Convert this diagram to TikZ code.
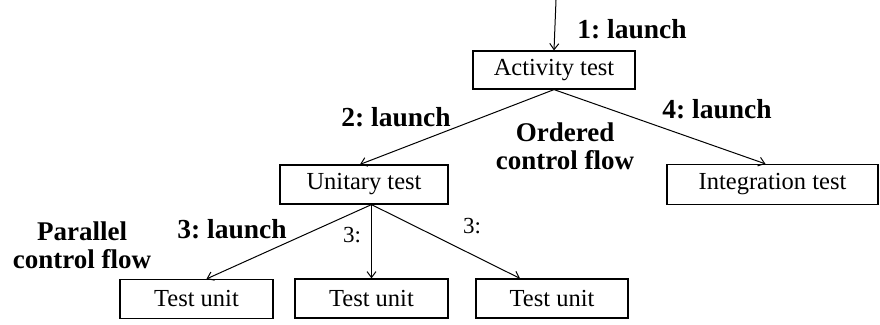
\documentclass[tikz,border=0pt]{standalone}
\usepackage{fontspec}
\setmainfont{Liberation Serif}
\usetikzlibrary{positioning, arrows.meta}
\frenchspacing

\begin{document}
\begin{tikzpicture}[
    x=1pt, y=-1pt,
    testbox/.style={rectangle, draw=black, line width=1.2pt, minimum height=39pt, inner sep=0pt, text centered, font=\fontsize{24.5}{28}\selectfont},
    launch/.style={font=\fontsize{27.5}{28}\selectfont\bfseries, inner sep=0pt},
    flowtext/.style={font=\fontsize{27}{28}\selectfont\bfseries, align=center, inner sep=0pt},
    small/.style={font=\fontsize{23}{28}\selectfont, inner sep=0pt},
    arrow/.style={line width=1pt, -{Straight Barb[length=6pt, width=9pt, line width=1pt]}},
]
\useasboundingbox (0,0) rectangle (880,324);

% Boxes
\node[testbox, minimum width=162pt, minimum height=38pt] (activity) at (554,70) {Activity test};
\node[testbox, minimum width=168pt] (unitary) at (364,184.5) {Unitary test};
\node[testbox, minimum width=211pt, minimum height=40pt] (integration) at (772.5,184.5) {Integration test};
\node[testbox, minimum width=153pt] (unitA) at (196.5,299) {Test unit};
\node[testbox, minimum width=153pt] (unitB) at (371.5,298.5) {Test unit};
\node[testbox, minimum width=152pt] (unitC) at (552,298.5) {Test unit};
\coordinate (entry) at (556,0);

% Labels
\node[launch] (launchOne) at (632,29) {1: launch};
\node[launch] (launchTwo) at (396,117) {2: launch};
\node[launch] (launchFour) at (717,109) {4: launch};
\node[launch] (launchThree) at (232,229) {3: launch};
\node[flowtext] (ordered) at (565,146) {Ordered\\control flow};
\node[flowtext] (parallel) at (82,245) {Parallel\\control flow};
\node[small] (threeB) at (352,235) {3:};
\node[small] (threeC) at (472,226) {3:};

% Arrows
\draw[arrow] (entry) -- (activity.north);
\draw[arrow] (activity.south) -- ([xshift=-4pt]unitary.north);
\draw[arrow] (activity.south) -- ([xshift=-7pt]integration.north);
\draw[arrow] (unitary.south -| unitB.north) -- ([xshift=10pt]unitA.north);
\draw[arrow] (unitary.south -| unitB.north) -- (unitB.north);
\draw[arrow] (unitary.south -| unitB.north) -- ([xshift=-32pt]unitC.north);

\end{tikzpicture}
\end{document}
